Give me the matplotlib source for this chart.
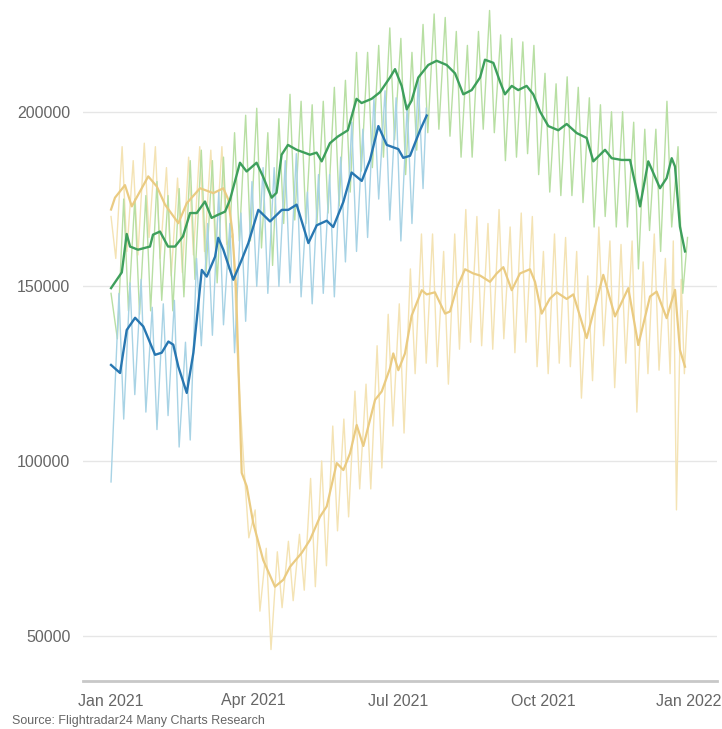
import numpy as np
import pandas as pd
import matplotlib
matplotlib.use("Agg")
import matplotlib.pyplot as plt

plt.rcParams['font.family'] = ['Liberation Sans', 'DejaVu Sans']

start = pd.Timestamp('2021-01-01')

# --- 7-day average lines (day of year, flights in thousands) ---
green_ma_day = [0, 6.8, 9.9, 12, 17, 24.6, 26.5, 30.9, 36, 40.4, 45.4, 49.9, 54.1, 59.3, 63.5,
                67.5, 72, 75.1, 81.4, 85.6, 91.9, 95.9, 101.4, 104.5, 107.7, 111.7, 117.2, 125.6,
                129.8, 133, 138.2, 143.2, 149.5, 155, 158.2, 164.5, 169.8, 176.1, 179.3, 183.5,
                186.7, 189.8, 194, 200.3, 205.6, 211.9, 217.2, 222.4, 227.7, 233, 236.1, 241.4,
                245.6, 248.7, 253, 257.1, 262.4, 266.6, 270.8, 276.1, 282.4, 287.7, 294, 300.3,
                304.5, 311.9, 316.1, 322.4, 327.7, 334, 339.2, 346.6, 350.8, 354, 356.1, 359.2, 362.4]
green_ma = [149.5, 154, 165, 161.4, 160.5, 161.4, 164.8, 165.7, 161.4, 161.4, 164.3, 171, 171,
            174.3, 169.6, 170.5, 171.4, 174.8, 185.4, 182.9, 185.4, 181.5, 175.4, 176.8, 187.7,
            190.5, 189.1, 187.7, 188.3, 185.8, 191, 192.9, 194.7, 203.7, 202.5, 203.7, 205.6,
            209.8, 212.2, 207.4, 200.7, 203.2, 209.8, 213.4, 214.6, 213.4, 211, 205, 206.2, 209.8,
            214.9, 214, 208.6, 205, 207.4, 206.2, 207.4, 205, 200.1, 195.9, 194.7, 196.5, 193.9,
            192.5, 185.8, 189.1, 186.7, 186.2, 186.2, 172.9, 185.8, 178.1, 181, 186.7, 184.3,
            167.1, 160]

blue_ma_day = [0, 5.7, 9.9, 15.2, 20.4, 27.8, 32, 36.2, 39.3, 42.5, 47.8, 52, 57.3, 60.4, 65.7,
               67.7, 70.9, 77.2, 82.5, 86.7, 93, 100.4, 107.8, 111.9, 117.2, 124.6, 129.9, 136.2,
               140.3, 146.7, 151.9, 158.3, 163.5, 168.8, 174.1, 181.4, 184.5, 188.8, 191.9, 195.1,
               199.3]
blue_ma = [127.5, 125.2, 137.5, 141, 138.5, 130.4, 131, 134.2, 133.3, 127, 119.5, 131, 154.7,
           152.8, 158.5, 163.9, 160.5, 151.9, 157.6, 162.4, 171.9, 168.6, 171.9, 171.9, 173.4,
           162.4, 167.5, 168.8, 167, 174.2, 182.6, 180.2, 186.2, 195.9, 190.5, 189.3, 186.8,
           187.4, 191, 194.7, 198.9]

yellow_ma_day = [0, 2.5, 8.8, 13.1, 23.5, 28.9, 34.1, 42.5, 47.8, 56.2, 64.6, 70.9, 74.1, 76.5,
                 78.9, 82.5, 85.7, 89.8, 96.1, 103.5, 108.8, 113, 120.4, 125.6, 131.9, 136.2,
                 142.5, 146.7, 150.9, 155.1, 159.3, 166.7, 170.9, 176.1, 178.2, 181.4, 185.6,
                 189.8, 196.2, 199.3, 204.5, 210.9, 214, 218.2, 223.5, 228.7, 233, 239.3, 243.5,
                 247.7, 253, 258.2, 264.5, 267.7, 271.9, 277.1, 281.4, 287.7, 291.9, 300.3, 310.8,
                 318.2, 326.6, 332.9, 340.3, 344.5, 350.8, 356.1, 359.2, 362.4]
yellow_ma = [172, 175.4, 179, 172.9, 181.5, 178.6, 173.4, 168.1, 173.8, 178.1, 176.7, 178.1,
             174.8, 166, 150, 96.6, 92.7, 82.2, 71.6, 64, 66, 69.7, 73.7, 77.4, 84, 87, 99.4,
             97.4, 102.2, 110.3, 104.3, 117.5, 119.9, 126.5, 130.8, 126, 130.8, 141.6, 148.9,
             147.7, 148.3, 142.2, 142.8, 149.4, 154.9, 153.7, 153.1, 151.3, 153.7, 155.5, 148.9,
             153.7, 154.9, 151.3, 142.2, 146.5, 148.3, 146.4, 147.7, 135.2, 153.3, 141.4, 149.5,
             133.2, 147.1, 148.5, 140.9, 149, 131.8, 127]

# --- daily values: weekly low and high points (thousands) ---
green_low = [135, 143, 142, 143, 146, 143, 147, 152, 154, 151, 155, 163, 163, 161, 156, 168, 169,
             168, 168, 171, 173, 177, 183, 184, 187, 192, 182, 189, 194, 195, 193, 187, 187, 195,
             194, 186, 187, 188, 182, 177, 176, 176, 174, 167, 170, 167, 167, 155, 166, 160, 167]
green_high = [175, 175, 176, 180, 176, 178, 186, 189, 186, 187, 194, 199, 201, 194, 198, 205, 203,
              202, 203, 207, 209, 217, 217, 219, 224, 221, 217, 225, 228, 227, 223, 219, 223, 229,
              222, 221, 220, 219, 211, 208, 210, 207, 204, 202, 200, 200, 197, 195, 195, 203, 190]
green_head = [(0, 148)]
green_tail = [(361, 148), (364, 164)]

blue_low = [112, 119, 114, 109, 113, 104, 106, 133, 136, 139, 131, 140, 150, 148, 150, 151, 147,
            145, 148, 147, 157, 160, 164, 175, 169, 163, 168]
blue_high = [151, 152, 144, 145, 146, 134, 158, 168, 177, 168, 171, 180, 184, 184, 186, 188, 177,
             182, 182, 187, 197, 195, 204, 206, 204, 202, 209]
blue_head = [(0, 94), (5, 148)]
blue_tail = [(197, 178), (199, 201)]

yellow_low = [158, 160, 159, 164, 158, 153, 154, 159, 160, 160, 162, 128, 78, 57, 46, 58, 60, 63,
              64, 70, 80, 84, 92, 92, 98, 110, 108, 125, 128, 127, 122, 132, 134, 133, 132, 135,
              131, 134, 127, 125, 128, 127, 118, 123, 133, 121, 128, 114, 125, 126]
yellow_high = [190, 186, 191, 190, 184, 181, 187, 190, 189, 190, 165, 98, 86, 75, 74, 77, 79, 95,
               100, 110, 112, 120, 122, 133, 142, 145, 155, 165, 165, 160, 165, 172, 170, 168,
               172, 167, 171, 170, 160, 165, 164, 160, 153, 167, 163, 162, 163, 157, 165, 158]
yellow_head = [(0, 170)]
yellow_tail = [(353, 125), (355, 163), (357, 86), (360, 152), (362, 125), (364, 143)]

tick_dates = ['2021-01-01', '2021-04-01', '2021-07-01', '2021-10-01', '2022-01-01']
tick_labels = ['Jan 2021', 'Apr 2021', 'Jul 2021', 'Oct 2021', 'Jan 2022']
y_ticks = [50000, 100000, 150000, 200000]


def weekly(first_low_day, lows, highs, head, tail):
    days = [d for d, v in head]
    vals = [v for d, v in head]
    for i, (lo, hi) in enumerate(zip(lows, highs)):
        days += [first_low_day + 7 * i, first_low_day + 7 * i + 4]
        vals += [lo, hi]
    days += [d for d, v in tail]
    vals += [v for d, v in tail]
    return np.array(days), np.array(vals) * 1000


fig = plt.figure(figsize=(7.22, 7.29), dpi=100)
ax = fig.add_axes([83 / 722, 48 / 729, 634 / 722, 681 / 729])

yd, yv = weekly(3, yellow_low, yellow_high, yellow_head, yellow_tail)
gd, gv = weekly(4, green_low, green_high, green_head, green_tail)
bd, bv = weekly(8, blue_low, blue_high, blue_head, blue_tail)

ax.plot(yd, yv, color='#f4e3b4', lw=1.0, zorder=2)
ax.plot(gd, gv, color='#b8dfa3', lw=1.0, zorder=2)
ax.plot(bd, bv, color='#a8d3e5', lw=1.0, zorder=2)

ax.plot(yellow_ma_day, np.array(yellow_ma) * 1000, color='#eacb82', lw=1.6, zorder=3)
ax.plot(green_ma_day, np.array(green_ma) * 1000, color='#3e9f5c', lw=1.7, zorder=3)
ax.plot(blue_ma_day, np.array(blue_ma) * 1000, color='#2877b1', lw=1.7, zorder=3)

ax.set_xlim(-17.7, 382.6)
ax.set_ylim(37000, 232000)

ax.set_xticks([(pd.Timestamp(d) - start).days for d in tick_dates])
ax.set_xticklabels(tick_labels)
ax.set_yticks(y_ticks)
ax.set_yticklabels([str(v) for v in y_ticks])
ax.tick_params(axis='both', length=0, labelsize=11.5, labelcolor='#666666')
ax.tick_params(axis='x', pad=9)
ax.tick_params(axis='y', pad=9)

ax.grid(axis='y', color='#e6e6e6', lw=1)
ax.set_axisbelow(True)
for s in ['top', 'right', 'left']:
    ax.spines[s].set_visible(False)
ax.spines['bottom'].set_color('#c8c8c8')
ax.spines['bottom'].set_linewidth(2)

fig.text(12 / 722, 1 - 715 / 729, 'Source: Flightradar24 Many Charts Research',
         fontsize=9, color='#666666', va='top', ha='left')

fig.savefig('out.png', dpi=100)
